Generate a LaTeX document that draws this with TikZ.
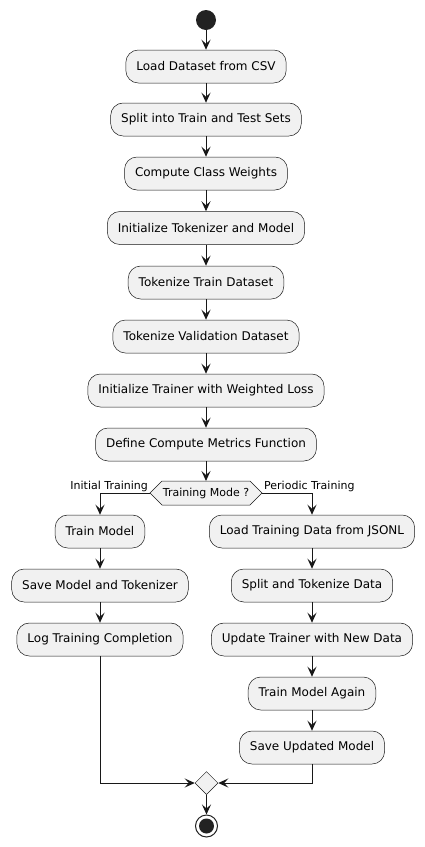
\documentclass[tikz,border=0pt]{standalone}
\usepackage{fontspec}
\setmainfont{DejaVu Sans}
\usetikzlibrary{arrows.meta,shapes.geometric}
\definecolor{boxC}{HTML}{F1F1F1}
\definecolor{lineC}{HTML}{181818}
\definecolor{dotC}{HTML}{222222}
\begin{document}
\begin{tikzpicture}[x=1pt,y=-1pt,
  act/.style={draw=lineC, fill=boxC, rounded corners=12.5pt, minimum height=33pt, inner xsep=10.5pt, inner ysep=0pt, font=\fontsize{12}{14}\selectfont, line width=0.5pt},
  flow/.style={draw=lineC, line width=1pt, -{Stealth[length=10pt,width=9pt,inset=4pt]}},
  lbl/.style={font=\fontsize{11}{13}\selectfont, inner sep=1pt, text=black}
]
\useasboundingbox (0,0) rectangle (425,847);
\node[circle, fill=dotC, minimum size=20pt, inner sep=0pt] (start) at (206,20) {};
\node[act] (b1) at (206,66.5) {Load Dataset from CSV};
\node[act] (b2) at (206,119.5) {Split into Train and Test Sets};
\node[act] (b3) at (206,173.5) {Compute Class Weights};
\node[act] (b4) at (206,228) {Initialize Tokenizer and Model};
\node[act] (b5) at (206,282.5) {Tokenize Train Dataset};
\node[act] (b6) at (206,336.5) {Tokenize Validation Dataset};
\node[act] (b7) at (206,390.5) {Initialize Trainer with Weighted Loss};
\node[act] (b8) at (206,444.5) {Define Compute Metrics Function};
% decision hexagon
\draw[draw=lineC, fill=boxC, line width=0.5pt] (150,493) -- (162,481) -- (250,481) -- (262,493) -- (250,505) -- (162,505) -- cycle;
\node[font=\fontsize{11}{13}\selectfont, inner sep=0pt] (dec) at (206,493) {Training Mode ?};
\coordinate (decT) at (206,481);
\coordinate (decL) at (150,493);
\coordinate (decR) at (262,493);
\node[lbl, anchor=south east] (lab1) at (149,492.5) {Initial Training};
\node[lbl, anchor=south west] (lab2) at (263,492.5) {Periodic Training};
% left branch
\node[act] (l1) at (100,531.5) {Train Model};
\node[act] (l2) at (100,585.5) {Save Model and Tokenizer};
\node[act] (l3) at (100,639.5) {Log Training Completion};
% right branch
\node[act] (r1) at (312,531.5) {Load Training Data from JSONL};
\node[act] (r2) at (312,585.5) {Split and Tokenize Data};
\node[act] (r3) at (312,639.5) {Update Trainer with New Data};
\node[act] (r4) at (312,693.5) {Train Model Again};
\node[act] (r5) at (312,747.5) {Save Updated Model};
% merge and end
\node[diamond, draw=lineC, fill=boxC, line width=0.5pt, minimum size=23pt, inner sep=0pt] (merge) at (206.5,783) {};
\node[circle, draw=dotC, fill=white, line width=1pt, minimum size=22pt, inner sep=0pt] (end) at (206.5,826) {};
\node[circle, fill=dotC, minimum size=15pt, inner sep=0pt] (endin) at (206.5,826) {};
% connectors
\draw[flow] (start) -- (b1);
\draw[flow] (b1) -- (b2);
\draw[flow] (b2) -- (b3);
\draw[flow] (b3) -- (b4);
\draw[flow] (b4) -- (b5);
\draw[flow] (b5) -- (b6);
\draw[flow] (b6) -- (b7);
\draw[flow] (b7) -- (b8);
\draw[flow] (b8) -- (decT);
\draw[flow] (decL) -| (l1.north);
\draw[flow] (decR) -| (r1.north);
\draw[flow] (l1) -- (l2);
\draw[flow] (l2) -- (l3);
\draw[flow] (r1) -- (r2);
\draw[flow] (r2) -- (r3);
\draw[flow] (r3) -- (r4);
\draw[flow] (r4) -- (r5);
\draw[flow] (l3.south) |- (merge.west);
\draw[flow] (r5.south) |- (merge.east);
\draw[flow] (merge) -- (end);
\end{tikzpicture}
\end{document}
